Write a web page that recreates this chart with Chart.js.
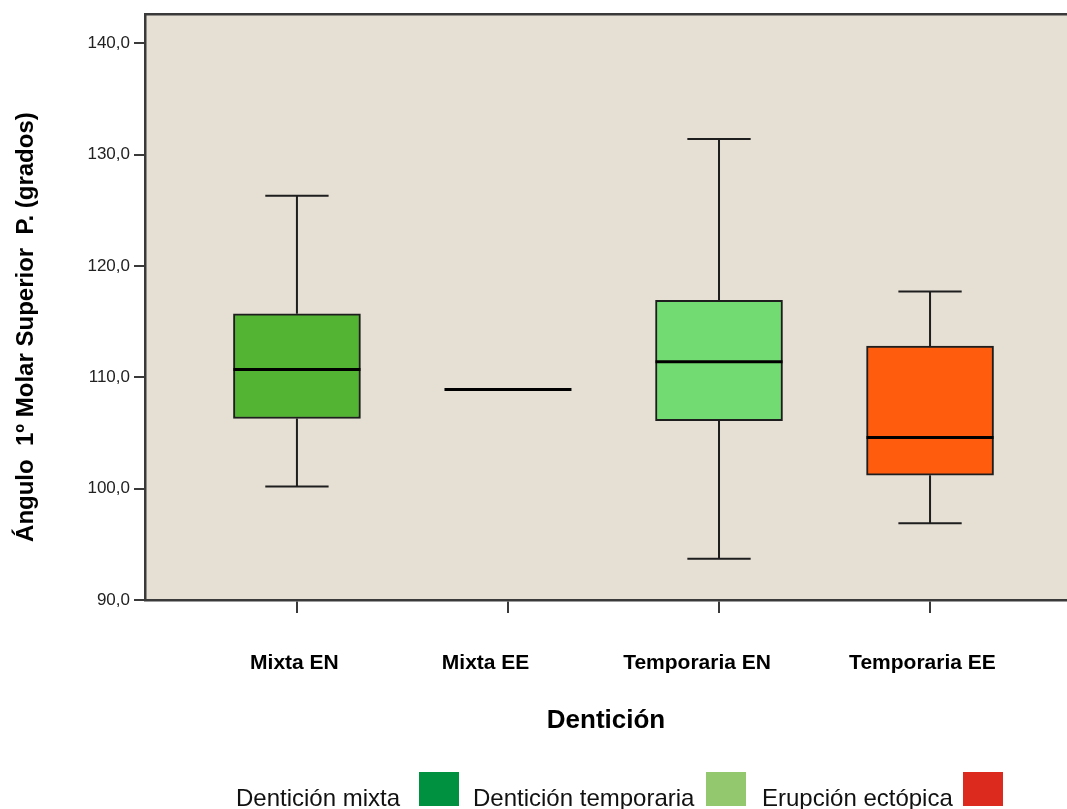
<!DOCTYPE html>
<html><head><meta charset="utf-8">
<script src="https://cdn.jsdelivr.net/npm/chart.js@4.4.1/dist/chart.umd.min.js"></script>
<style>
html,body{margin:0;padding:0;background:#fff;overflow:hidden}
#wrap{position:relative;width:1067px;height:809px}
canvas{position:absolute;left:0;top:0}
.lg{position:absolute;font-family:"Liberation Sans",Arial,sans-serif;font-size:24px;color:#111;white-space:nowrap;line-height:24px}
.sw{position:absolute;width:40px;height:34px}
</style></head><body>
<div id="wrap"><canvas id="c" width="1067" height="809"></canvas><div id="legend"></div></div>
<script>
// ---- data ----
const categories = ["Mixta EN", "Mixta EE", "Temporaria EN", "Temporaria EE"];
const minValues    = [100.2, 108.9,  93.7,  96.9];
const q1Values     = [106.3, 108.9, 106.1, 101.2];
const medianValues = [110.7, 108.9, 111.4, 104.6];
const q3Values     = [115.7, 108.9, 116.9, 112.8];
const maxValues    = [126.3, 108.9, 131.4, 117.7];
const yTickValues  = [90, 100, 110, 120, 130, 140];
const legendLabels = ["Dentición mixta", "Dentición temporaria", "Erupción ectópica"];

// ---- styles ----
const boxColors = ["#52B432", "#52B432", "#72DC72", "#FF5C0E"];
const legendColors = ["#009140", "#94C86E", "#DC2A1E"];
const FONT = '"Liberation Sans", Arial, sans-serif';
const AXIS = "#3a3a3a";
const labelNudge = [-0.012, -0.106, -0.104, -0.036];

const boxPlugin = {
  id: "boxplot",
  beforeDraw(chart) {
    const { ctx, chartArea: a } = chart;
    ctx.save();
    ctx.fillStyle = "#E6DFD4";
    ctx.fillRect(a.left, a.top, a.right - a.left, a.bottom - a.top);
    ctx.restore();
  },
  beforeDatasetsDraw(chart) {
    const { ctx } = chart;
    const xs = chart.scales.x, ys = chart.scales.y;
    ctx.save();
    ctx.strokeStyle = "#1e1e1e";
    ctx.lineWidth = 2;
    categories.forEach((c, i) => {
      const x = xs.getPixelForValue(i);
      const half = (xs.getPixelForValue(i + 0.15) - x);
      const yMin = ys.getPixelForValue(minValues[i]);
      const yMax = ys.getPixelForValue(maxValues[i]);
      const yQ1 = ys.getPixelForValue(q1Values[i]);
      const yQ3 = ys.getPixelForValue(q3Values[i]);
      if (maxValues[i] === minValues[i]) return;
      ctx.beginPath();
      ctx.moveTo(x, yQ3); ctx.lineTo(x, yMax);
      ctx.moveTo(x - half, yMax); ctx.lineTo(x + half, yMax);
      ctx.moveTo(x, yQ1); ctx.lineTo(x, yMin);
      ctx.moveTo(x - half, yMin); ctx.lineTo(x + half, yMin);
      ctx.stroke();
    });
    ctx.restore();
  },
  afterDatasetsDraw(chart) {
    const { ctx, chartArea: a } = chart;
    const xs = chart.scales.x, ys = chart.scales.y;
    const meta = chart.getDatasetMeta(0);
    ctx.save();
    ctx.strokeStyle = "#000";
    ctx.lineWidth = 3;
    categories.forEach((c, i) => {
      const x = xs.getPixelForValue(i);
      const w = meta.data[i].width;
      const y = ys.getPixelForValue(medianValues[i]);
      ctx.beginPath();
      ctx.moveTo(x - w / 2, y); ctx.lineTo(x + w / 2, y);
      ctx.stroke();
    });
    ctx.strokeStyle = AXIS;
    ctx.lineWidth = 2.5;
    ctx.beginPath();
    ctx.moveTo(a.left - 1, a.top); ctx.lineTo(a.right, a.top);
    ctx.stroke();
    ctx.restore();
  }
};

new Chart(document.getElementById("c"), {
  type: "bar",
  data: {
    datasets: [{
      label: "Ángulo",
      data: categories.map((c, i) => ({ x: i, y: [q1Values[i], q3Values[i]] })),
      backgroundColor: boxColors,
      borderColor: "#1e1e1e",
      borderWidth: 2,
      borderSkipped: false,
      barThickness: 127
    }]
  },
  options: {
    responsive: false,
    animation: false,
    devicePixelRatio: 1,
    layout: { padding: { top: 14, right: 0, left: 0, bottom: 0 } },
    plugins: { legend: { display: false }, tooltip: { enabled: false } },
    scales: {
      x: {
        type: "linear", position: "bottom", weight: 0,
        min: -0.72, max: 3.649, offset: false,
        afterBuildTicks: s => { s.ticks = categories.map((c, i) => ({ value: i })); },
        afterFit: s => { s.height = 13; },
        ticks: { display: false },
        grid: { offset: false, drawOnChartArea: false, drawTicks: true, tickLength: 13, color: AXIS, lineWidth: 2 },
        border: { display: true, color: AXIS, width: 2.5 }
      },
      xl: {
        type: "linear", position: "bottom", weight: 1,
        min: -0.72, max: 3.649, offset: false,
        afterBuildTicks: s => { s.ticks = categories.map((c, i) => ({ value: i + labelNudge[i] })); },
        afterFit: s => { s.height = 196; },
        grid: { display: false, offset: false },
        border: { display: false },
        ticks: {
          autoSkip: false, maxRotation: 0, padding: 30, color: "#000",
          font: { family: FONT, size: 21, weight: "bold" },
          callback: (v, i) => categories[i]
        },
        title: {
          display: true, text: "Dentición", color: "#000",
          font: { family: FONT, size: 26, weight: "bold" },
          padding: { top: 0, bottom: 73 }
        }
      },
      y: {
        type: "linear", position: "left",
        min: 90, max: 142.6,
        afterBuildTicks: s => { s.ticks = yTickValues.map(v => ({ value: v })); },
        afterFit: s => { s.width = 145; },
        grid: { drawOnChartArea: false, drawTicks: true, tickLength: 11, color: AXIS, lineWidth: 2 },
        border: { display: true, color: AXIS, width: 2.5 },
        ticks: {
          padding: 4, color: "#222",
          font: { family: FONT, size: 17 },
          callback: v => v.toFixed(1).replace(".", ",")
        },
        title: {
          display: true, text: "Ángulo  1º Molar Superior  P. (grados)      ", color: "#000",
          font: { family: FONT, size: 24, weight: "bold" },
          padding: { top: 12, bottom: 0 }
        }
      }
    }
  },
  plugins: [boxPlugin]
});

// legend
const lg = document.getElementById("legend");
const textLeft = [236, 473, 762];
const swLeft = [419, 706, 963];
legendLabels.forEach((t, i) => {
  const s = document.createElement("div");
  s.className = "lg"; s.textContent = t;
  s.style.left = textLeft[i] + "px"; s.style.top = "786px";
  lg.appendChild(s);
  const b = document.createElement("div");
  b.className = "sw"; b.style.background = legendColors[i];
  b.style.left = swLeft[i] + "px"; b.style.top = "772px";
  lg.appendChild(b);
});
</script>
</body></html>
